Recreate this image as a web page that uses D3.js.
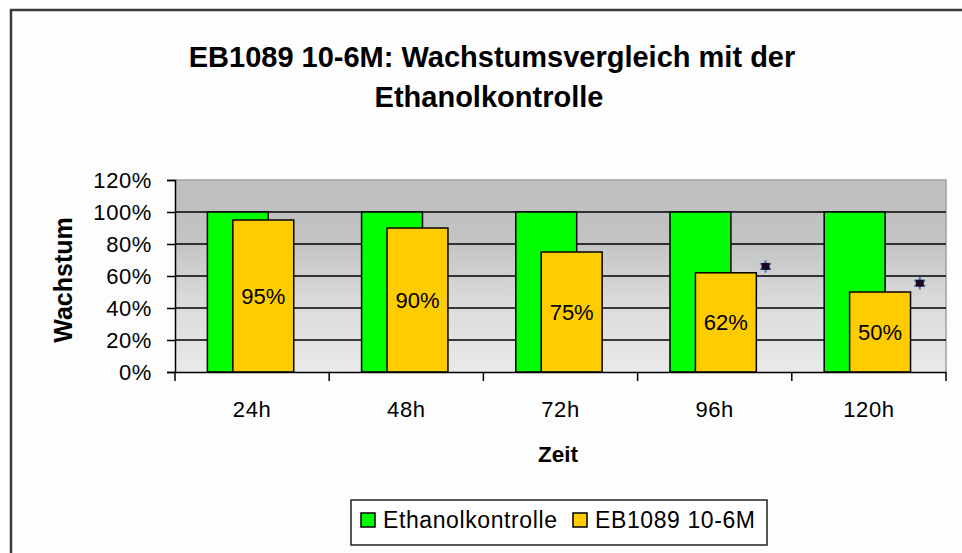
<!DOCTYPE html>
<html>
<head>
<meta charset="utf-8">
<script src="https://cdn.jsdelivr.net/npm/d3@7"></script>
<style>
  body { margin: 0; background: #ffffff; }
  svg { display: block; }
  text { font-family: "Liberation Sans", Arial, sans-serif; fill: #000; }
</style>
</head>
<body>
<svg id="chart"></svg>
<script>
// data
const categories = ["24h", "48h", "72h", "96h", "120h"]
const controlValues = [1.00, 1.00, 1.00, 1.00, 1.00]
const treatedValues = [0.95, 0.90, 0.75, 0.62, 0.50]
const treatedLabels = ["95%", "90%", "75%", "62%", "50%"]
const starValues = [null, null, null, 0.66, 0.555]   // significance markers
const yTicks = [0, 0.2, 0.4, 0.6, 0.8, 1.0, 1.2]
const seriesNames = ["Ethanolkontrolle", "EB1089 10-6M"]
const seriesColors = ["#00ff00", "#ffcc00"]

const W = 962, H = 553
const plot = { left: 175, right: 946, top: 180, bottom: 372 }

const svg = d3.select("#chart").attr("width", W).attr("height", H)

// chart area frame
svg.append("rect")
  .attr("x", 0).attr("y", 0).attr("width", W).attr("height", H)
  .attr("fill", "#ffffff")
svg.append("rect")
  .attr("x", 11).attr("y", 10).attr("width", 1000).attr("height", 700)
  .attr("fill", "#fdfdfd")
  .attr("stroke", "#3a3a3a").attr("stroke-width", 2.5)

// title
const title = svg.append("text")
  .attr("text-anchor", "middle")
  .style("font-weight", "bold")
  .style("font-size", "29px")
title.append("tspan").attr("x", 492).attr("y", 67).text("EB1089 10-6M: Wachstumsvergleich mit der")
title.append("tspan").attr("x", 489).attr("y", 107).text("Ethanolkontrolle")

// scales
const x = d3.scaleBand().domain(categories).range([plot.left, plot.right]).padding(0)
const y = d3.scaleLinear().domain([0, 1.2]).range([plot.bottom, plot.top])
const bw = x.bandwidth()

// plot background gradient
const defs = svg.append("defs")
const grad = defs.append("linearGradient").attr("id", "bg")
  .attr("x1", 0).attr("y1", 0).attr("x2", 0).attr("y2", 1)
grad.append("stop").attr("offset", "0%").attr("stop-color", "#c0c0c0")
grad.append("stop").attr("offset", "17%").attr("stop-color", "#c0c0c0")
grad.append("stop").attr("offset", "33%").attr("stop-color", "#c4c4c4")
grad.append("stop").attr("offset", "66%").attr("stop-color", "#dcdcdc")
grad.append("stop").attr("offset", "100%").attr("stop-color", "#e9e9e9")

svg.append("rect")
  .attr("x", plot.left).attr("y", plot.top)
  .attr("width", plot.right - plot.left).attr("height", plot.bottom - plot.top)
  .attr("fill", "url(#bg)")

// plot border (top + right in gray)
svg.append("path")
  .attr("d", `M${plot.left},${plot.top}H${plot.right}V${plot.bottom}`)
  .attr("fill", "none").attr("stroke", "#a0a0a0").attr("stroke-width", 1.5)

// gridlines
svg.append("g").selectAll("line")
  .data(yTicks.filter(t => t > 0 && t < 1.2))
  .join("line")
  .attr("x1", plot.left).attr("x2", plot.right)
  .attr("y1", d => y(d)).attr("y2", d => y(d))
  .attr("stroke", "#000").attr("stroke-width", 1.5)

// bars
const greenOff = 0.21, yellowOff = 0.375, barW = 0.395
svg.append("g").selectAll("rect")
  .data(categories)
  .join("rect")
  .attr("x", (c) => x(c) + bw * greenOff)
  .attr("y", (c, i) => y(controlValues[i]))
  .attr("width", bw * barW)
  .attr("height", (c, i) => y(0) - y(controlValues[i]))
  .attr("fill", seriesColors[0])
  .attr("stroke", "#000").attr("stroke-width", 1.5)

svg.append("g").selectAll("rect")
  .data(categories)
  .join("rect")
  .attr("x", (c) => x(c) + bw * yellowOff)
  .attr("y", (c, i) => y(treatedValues[i]))
  .attr("width", bw * barW)
  .attr("height", (c, i) => y(0) - y(treatedValues[i]))
  .attr("fill", seriesColors[1])
  .attr("stroke", "#000").attr("stroke-width", 1.5)

// data labels
svg.append("g").selectAll("text")
  .data(categories)
  .join("text")
  .attr("x", (c) => x(c) + bw * (yellowOff + barW / 2))
  .attr("y", (c, i) => (y(treatedValues[i]) + y(0)) / 2)
  .attr("dy", "0.35em")
  .attr("text-anchor", "middle")
  .style("font-size", "22px")
  .text((c, i) => treatedLabels[i])

// star markers
const starSym = d3.symbol().type(d3.symbolAsterisk).size(110)
const stars = svg.append("g").selectAll("g")
  .data(categories.map((c, i) => ({ c, v: starValues[i] })).filter(d => d.v != null))
  .join("g")
  .attr("transform", d => `translate(${x(d.c) + bw * 0.83},${y(d.v)})`)
stars.append("path").attr("d", starSym)
  .attr("fill", "none").attr("stroke", "#4a78b8").attr("stroke-width", 2)
stars.append("rect").attr("x", -4).attr("y", -3.5).attr("width", 8).attr("height", 7)
  .attr("fill", "#1a0a20")

// y axis
const yAxis = svg.append("g")
  .attr("transform", `translate(${plot.left},0)`)
  .call(d3.axisLeft(y).tickValues(yTicks).tickFormat(d3.format(".0%")).tickSize(8).tickPadding(15))
yAxis.select(".domain").attr("stroke", "#000").attr("stroke-width", 1.5)
yAxis.selectAll(".tick line").attr("stroke", "#000").attr("stroke-width", 1.5)
yAxis.selectAll(".tick text")
  .style("font-size", "22px").style("font-family", "'Liberation Sans', Arial, sans-serif")
  .style("letter-spacing", "0.6px")
  .attr("fill", "#000")

// x axis: labels centered, ticks at band edges
const xAxis = svg.append("g")
  .attr("transform", `translate(0,${plot.bottom})`)
  .call(d3.axisBottom(x).tickSize(0).tickPadding(29).tickSizeOuter(0))
xAxis.select(".domain").attr("stroke", "#000").attr("stroke-width", 1.5)
xAxis.selectAll(".tick text")
  .style("font-size", "22px").style("font-family", "'Liberation Sans', Arial, sans-serif")
  .style("letter-spacing", "0.6px")
  .attr("fill", "#000")
xAxis.selectAll("line.edge")
  .data(categories.map(c => x(c)).concat([x.range()[1]]))
  .join("line")
  .attr("class", "edge")
  .attr("x1", d => d).attr("x2", d => d)
  .attr("y1", 0).attr("y2", 9)
  .attr("stroke", "#000").attr("stroke-width", 1.5)

// axis titles
svg.append("text")
  .attr("transform", "translate(72,280) rotate(-90)")
  .attr("text-anchor", "middle")
  .style("font-weight", "bold").style("font-size", "25px")
  .text("Wachstum")

svg.append("text")
  .attr("x", 558).attr("y", 462)
  .attr("text-anchor", "middle")
  .style("font-weight", "bold").style("font-size", "22.5px")
  .text("Zeit")

// legend
const legend = svg.append("g")
legend.append("rect")
  .attr("x", 351).attr("y", 500).attr("width", 416).attr("height", 45)
  .attr("fill", "#ffffff").attr("stroke", "#222").attr("stroke-width", 1.5)
const legendX = [361, 573]
const items = legend.selectAll("g.item")
  .data(seriesNames)
  .join("g").attr("class", "item")
  .attr("transform", (d, i) => `translate(${legendX[i]},513)`)
items.append("rect")
  .attr("width", 14).attr("height", 14)
  .attr("fill", (d, i) => seriesColors[i])
  .attr("stroke", "#000").attr("stroke-width", 1.5)
items.append("text")
  .attr("x", 22).attr("y", 15)
  .style("font-size", "23px")
  .style("letter-spacing", "0.6px")
  .text(d => d)
</script>
</body>
</html>
